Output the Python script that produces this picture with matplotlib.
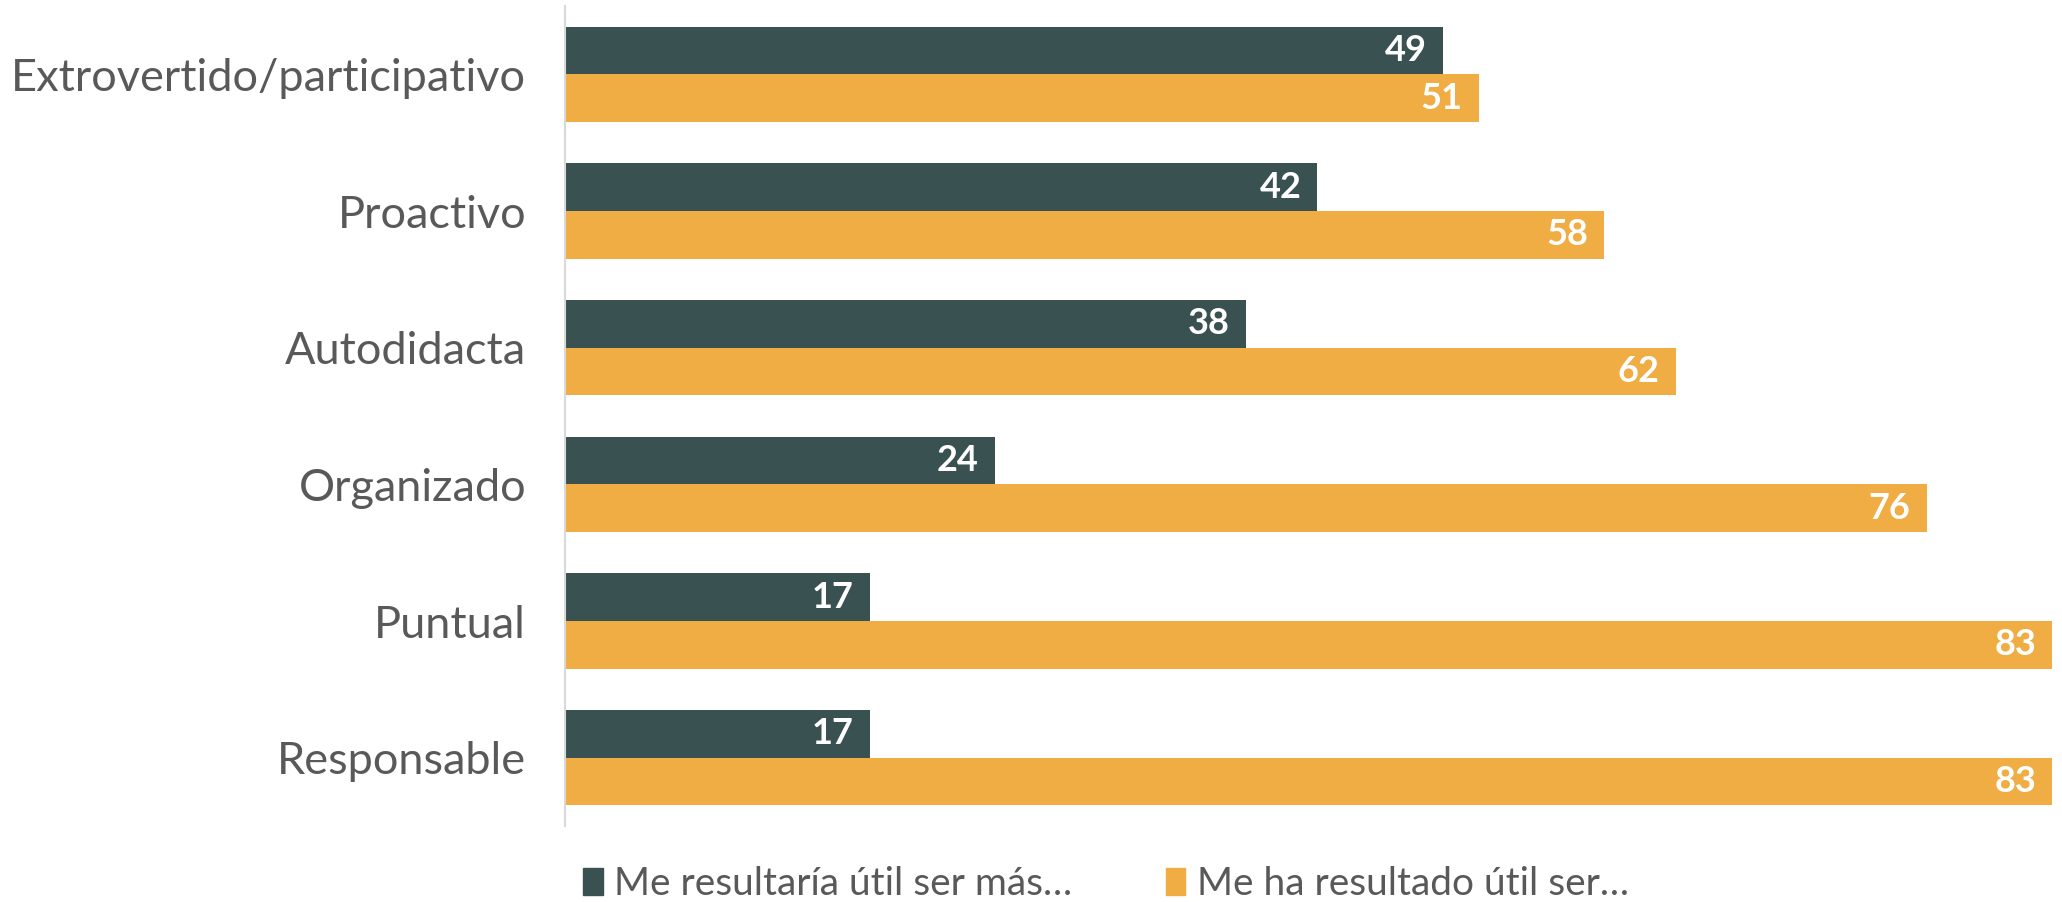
import matplotlib
matplotlib.use("Agg")
import matplotlib.pyplot as plt
from matplotlib.patches import Patch
import numpy as np

categories = ["Extrovertido/participativo", "Proactivo", "Autodidacta", "Organizado", "Puntual", "Responsable"]
serie_mas = [49, 42, 38, 24, 17, 17]
serie_ha = [51, 58, 62, 76, 83, 83]
series_names = ["Me resultaría útil ser más…", "Me ha resultado útil ser…"]

DARK = "#3a5152"
ORANGE = "#efad44"
GREY = "#595959"
FONT = "Lato"

fig = plt.figure(figsize=(20.62, 9.02), dpi=100)
ax = fig.add_axes([565/2062, 1-826/902, (2052-565)/2062, (826-6)/902])

y = np.arange(len(categories))
h = 0.35
b1 = ax.barh(y - h/2, serie_mas, height=h, color=DARK)
b2 = ax.barh(y + h/2, serie_ha, height=h, color=ORANGE)

for bars, vals in ((b1, serie_mas), (b2, serie_ha)):
    for rect, v in zip(bars, vals):
        ax.annotate(str(v), (rect.get_width(), rect.get_y() + rect.get_height()/2),
                    xytext=(-16, 0), textcoords="offset pixels",
                    ha="right", va="center", color="white", fontsize=26,
                    fontweight="bold", family=FONT)

ax.set_xlim(0, 83)
ax.set_ylim(len(categories) - 0.5, -0.5)
ax.set_yticks(y)
ax.set_yticklabels(categories, fontsize=32.5, color=GREY, family=FONT)
ax.tick_params(axis="y", length=0, pad=28)
ax.set_xticks([])
for s in ("top", "right", "bottom"):
    ax.spines[s].set_visible(False)
ax.spines["left"].set_color("#d9d9d9")
ax.spines["left"].set_linewidth(1.5)

handles = [Patch(color=DARK), Patch(color=ORANGE)]
fig.legend(handles, series_names, loc="center", bbox_to_anchor=(1106/2062, 1-884/902),
           ncol=2, frameon=False, labelcolor=GREY,
           prop={"family": FONT, "size": 28},
           handlelength=0.5, handleheight=0.7, handletextpad=0.3, columnspacing=2.4)

fig.savefig("out.png", dpi=100)
